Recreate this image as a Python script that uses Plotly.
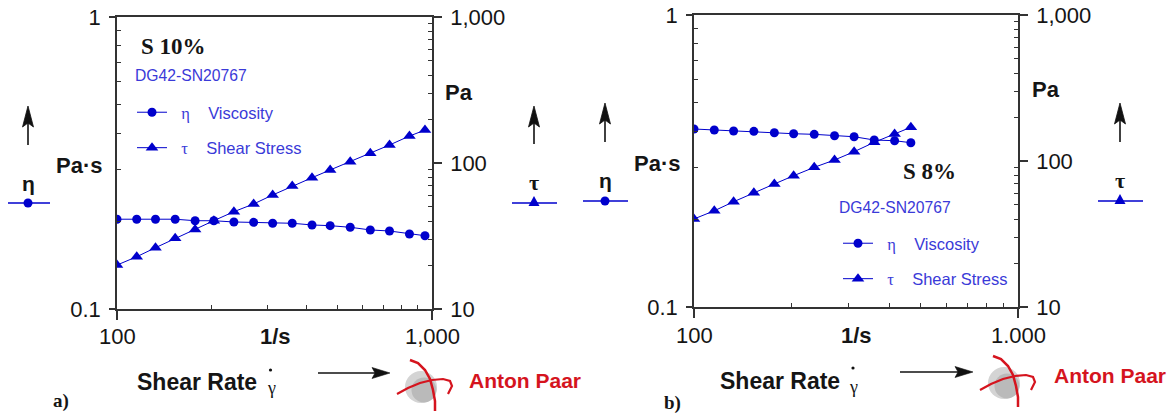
import math
import plotly.graph_objects as go

# ---------------- data ----------------
shear_rate_a = [100, 115.5, 132.5, 153, 177, 203, 235, 271.5, 312, 360, 416, 475, 550, 637, 733, 848, 950]
viscosity_a = [0.203, 0.203, 0.203, 0.203, 0.2006, 0.2006, 0.1986, 0.1981, 0.1966, 0.1966, 0.194,
               0.1929, 0.1905, 0.1865, 0.185, 0.1806, 0.1782]
stress_a = [20.0, 22.8, 26.3, 30.5, 35.1, 40.3, 46.4, 52.4, 60.4, 69.6, 79.3, 89.6, 102, 116.5,
            132.8, 153, 168]

shear_rate_b = [100, 115.5, 132.5, 153, 177, 203, 235, 271.5, 312, 360, 416, 467]
viscosity_b = [0.407, 0.4037, 0.4005, 0.3996, 0.3952, 0.3921, 0.3902, 0.3859, 0.3829, 0.3731,
               0.3711, 0.3653]
stress_b = [40.1, 45.6, 52.6, 60.7, 69.6, 79.3, 90.5, 101.6, 115.8, 134.3, 153, 170.2]

x_tickvals = [100, 1000]
x_ticktext_a = ["100", "1,000"]
x_ticktext_b = ["100", "1.000"]
eta_tickvals = [0.1, 1]
eta_ticktext = ["0.1", "1"]
tau_tickvals = [10, 100, 1000]
tau_ticktext = ["10", "100", "1,000"]

# ---------------- styling helpers ----------------
W, H = 1172, 416
def px(x): return x / W
def py(y): return 1 - y / H

BLUE = "#0000cc"
TXTBLUE = "#3a3ad8"
AXC = "#333333"
TXT = "#151515"
RED = "#d5141e"
SANS = "Liberation Sans, Arial, sans-serif"
SERIF = "Liberation Serif, Times New Roman, serif"
NB = "\u00a0"

fig = go.Figure()

def add_panel(xs, eta, tau, xa, ya, ya2, legend):
    fig.add_trace(go.Scatter(
        x=xs, y=eta, mode="lines+markers", xaxis=xa, yaxis=ya,
        line=dict(color=BLUE, width=1), marker=dict(symbol="circle", size=9, color=BLUE),
        name=NB * 2 + '<span style="font-family:Liberation Serif">η</span>' + NB * 4 + 'Viscosity',
        legend=legend, legendgroup=legend + "v"))
    fig.add_trace(go.Scatter(
        x=xs, y=tau, mode="lines+markers", xaxis=xa, yaxis=ya2,
        line=dict(color=BLUE, width=1), marker=dict(symbol="triangle-up", size=11, color=BLUE),
        name=NB * 2 + '<span style="font-family:Liberation Serif">τ</span>' + NB * 4 + 'Shear Stress',
        legend=legend, legendgroup=legend + "t"))

add_panel(shear_rate_a, viscosity_a, stress_a, "x", "y", "y3", "legend")
add_panel(shear_rate_b, viscosity_b, stress_b, "x2", "y2", "y4", "legend2")

minor_x = [200, 300, 400, 500, 600, 700, 800, 900]
minor_eta = [0.2, 0.3, 0.4, 0.5, 0.6, 0.7, 0.8, 0.9]
minor_tau = [20, 30, 40, 50, 60, 70, 80, 90, 200, 300, 400, 500, 600, 700, 800, 900]
tickfont = dict(family=SANS, size=22, color=TXT)

def xaxis_cfg(dom, anchor):
    # tick labels of the shear-rate axis are placed as axis-referenced annotations below
    return dict(type="log", domain=dom, range=[2, 3], anchor=anchor, automargin=False,
                tickmode="array", tickvals=x_tickvals, showticklabels=False,
                ticks="outside", ticklen=9, tickwidth=1.5, tickcolor=AXC,
                minor=dict(ticks="inside", ticklen=4, tickwidth=1, tickcolor=AXC,
                           tickmode="array", tickvals=minor_x, showgrid=False),
                showline=True, linecolor=AXC, linewidth=1.5, mirror=True,
                showgrid=False, zeroline=False)

def yaxis_cfg(dom, anchor):
    return dict(type="log", domain=dom, range=[-1, 0], anchor=anchor, automargin=False,
                tickmode="array", tickvals=eta_tickvals, ticktext=eta_ticktext,
                ticks="outside", ticklen=6, tickwidth=1.5, tickcolor=AXC,
                minor=dict(ticks="inside", ticklen=4, tickwidth=1, tickcolor=AXC,
                           tickmode="array", tickvals=minor_eta, showgrid=False),
                showline=True, linecolor=AXC, linewidth=1.5,
                showgrid=False, zeroline=False, tickfont=tickfont, ticklabelstandoff=4)

def yaxis2_cfg(overlay, anchor):
    return dict(type="log", range=[1, 3], overlaying=overlay, side="right", anchor=anchor,
                automargin=False,
                tickmode="array", tickvals=tau_tickvals, ticktext=tau_ticktext,
                ticks="outside", ticklen=8, tickwidth=1.5, tickcolor=AXC,
                minor=dict(ticks="inside", ticklen=4, tickwidth=1, tickcolor=AXC,
                           tickmode="array", tickvals=minor_tau, showgrid=False),
                showline=True, linecolor=AXC, linewidth=1.5,
                showgrid=False, zeroline=False, tickfont=tickfont, ticklabelstandoff=4)

legfont = dict(family=SANS, size=16.5, color=TXTBLUE)

fig.update_layout(
    width=W, height=H, autosize=False,
    margin=dict(l=0, r=0, t=0, b=0, autoexpand=False),
    paper_bgcolor="white", plot_bgcolor="white",
    xaxis=xaxis_cfg([px(117), px(432)], "y"),
    yaxis=yaxis_cfg([py(309), py(17)], "x"),
    yaxis3=yaxis2_cfg("y", "x"),
    xaxis2=xaxis_cfg([px(694), px(1018)], "y2"),
    yaxis2=yaxis_cfg([py(307), py(15)], "x2"),
    yaxis4=yaxis2_cfg("y2", "x2"),
    legend=dict(x=px(132), y=py(95), xanchor="left", yanchor="top", font=legfont,
                bgcolor="rgba(0,0,0,0)", tracegroupgap=11, itemwidth=30),
    legend2=dict(x=px(838), y=py(226), xanchor="left", yanchor="top", font=legfont,
                 bgcolor="rgba(0,0,0,0)", tracegroupgap=11, itemwidth=30),
    showlegend=True,
)

ann = []
shapes = []

def text(x, y, s, size, color=TXT, family=SANS, bold=False, xanchor="center"):
    if bold:
        s = "<b>" + s + "</b>"
    ann.append(dict(x=px(x), y=py(y), xref="paper", yref="paper", text=s, showarrow=False,
                    xanchor=xanchor, yanchor="middle", font=dict(family=family, size=size, color=color)))

def x_ticklabels(xref, labels, y):
    for v, s in zip(x_tickvals, labels):
        ann.append(dict(x=math.log10(v), y=py(y), xref=xref, yref="paper", text=s,
                        showarrow=False, xanchor="center", yanchor="middle", font=tickfont))

def line(x0, y0, x1, y1, color, width):
    shapes.append(dict(type="line", xref="paper", yref="paper", x0=px(x0), y0=py(y0),
                       x1=px(x1), y1=py(y1), line=dict(color=color, width=width)))

def path(pts, fill, color=None, width=0, closed=True):
    d = "M " + " L ".join(f"{px(a):.5f},{py(b):.5f}" for a, b in pts) + (" Z" if closed else "")
    shapes.append(dict(type="path", xref="paper", yref="paper", path=d,
                       fillcolor=fill, line=dict(color=color or fill, width=width)))

def polyline(pts, color, width):
    d = "M " + " L ".join(f"{px(a):.5f},{py(b):.5f}" for a, b in pts)
    shapes.append(dict(type="path", xref="paper", yref="paper", path=d,
                       line=dict(color=color, width=width)))

def circle(cx, cy, r, fill, lc=None, lw=0):
    shapes.append(dict(type="circle", xref="paper", yref="paper", x0=px(cx - r), x1=px(cx + r),
                       y0=py(cy + r), y1=py(cy - r), fillcolor=fill,
                       line=dict(color=lc or fill, width=lw)))

def up_arrow(x, ytip, ybot):
    line(x, ybot, x, ytip + 16, "#111", 1.6)
    path([(x, ytip), (x + 5.5, ytip + 21), (x, ytip + 17), (x - 5.5, ytip + 21)], "#111",
         "#111", 0.8)

def right_arrow(x0, x1, y):
    line(x0, y, x1 - 14, y, "#111", 1.4)
    path([(x1, y), (x1 - 18, y - 5.5), (x1 - 15, y), (x1 - 18, y + 5.5)], "#111", "#111", 0.6)

def sym_circle(xc, y, x0, x1):
    line(x0, y, x1, y, BLUE, 1.3)
    circle(xc, y, 4.5, BLUE)

def sym_tri(xc, y, x0, x1):
    line(x0, y, x1, y, BLUE, 1.3)
    path([(xc - 5.5, y + 3), (xc + 5.5, y + 3), (xc, y - 7)], BLUE)

def logo(dx, dy):
    circle(421 + dx, 387 + dy, 16, "#d4d4d4")
    circle(424 + dx, 390 + dy, 12.5, "#bababa")
    # meridian arc from the top sweeping right and down
    polyline([(p[0] + dx, p[1] + dy) for p in
              [(410, 360), (418, 363), (425, 370), (430, 379), (433, 390), (435, 401), (435, 411)]],
             RED, 2.5)
    # orbit arc
    polyline([(p[0] + dx, p[1] + dy) for p in
              [(397, 394), (408, 388), (420, 383), (432, 380), (443, 379), (450, 381), (452, 386), (448, 394)]],
             RED, 2.2)

def gamma_dot(x, y):
    circle(x, y, 1.6, "#111")

# ---- panel a decorations ----
x_ticklabels("x", x_ticktext_a, 336)
text(173, 46, "S 10%", 23, family=SERIF, bold=True)
text(191, 75, "DG42-SN20767", 15.7, color=TXTBLUE)
text(275, 336, "1/s", 22, bold=True)
text(197, 382, "Shear Rate", 23, bold=True)
text(271, 388, "γ", 18, family=SERIF)
gamma_dot(270.5, 370)
text(61, 401, "a)", 19, family=SERIF, bold=True)
text(79, 165, "Pa·s", 22, bold=True)
text(28, 183, "η", 21, bold=True)
text(459, 92, "Pa", 22, bold=True)
text(534, 182, "τ", 22, family=SERIF, bold=True)
up_arrow(28, 106, 145)
up_arrow(534, 106, 144)
sym_circle(28, 203, 8, 50)
sym_tri(534, 203, 512, 557)
right_arrow(318, 390, 373)
logo(0, 0)
text(525, 380, "Anton Paar", 21, color=RED, bold=True)

# ---- panel b decorations ----
x_ticklabels("x2", x_ticktext_b, 335)
text(929, 171, "S 8%", 23, family=SERIF, bold=True)
text(895, 207, "DG42-SN20767", 15.7, color=TXTBLUE)
text(856, 335, "1/s", 22, bold=True)
text(780, 381, "Shear Rate", 23, bold=True)
text(853, 387, "γ", 18, family=SERIF)
gamma_dot(853, 368)
text(672, 403, "b)", 19, family=SERIF, bold=True)
text(657, 164, "Pa·s", 22, bold=True)
text(605, 180, "η", 21, bold=True)
text(1046, 89, "Pa", 22, bold=True)
text(1120, 180, "τ", 22, family=SERIF, bold=True)
up_arrow(605, 103, 142)
up_arrow(1120, 103, 142)
sym_circle(605, 201, 583, 628)
sym_tri(1120, 201, 1098, 1143)
right_arrow(900, 973, 372)
logo(583, -4)
text(1110, 375, "Anton Paar", 21, color=RED, bold=True)

fig.update_layout(annotations=ann, shapes=shapes)

fig.write_html("out.html", config={"displayModeBar": False},
               post_script="document.body.style.margin='0';")
